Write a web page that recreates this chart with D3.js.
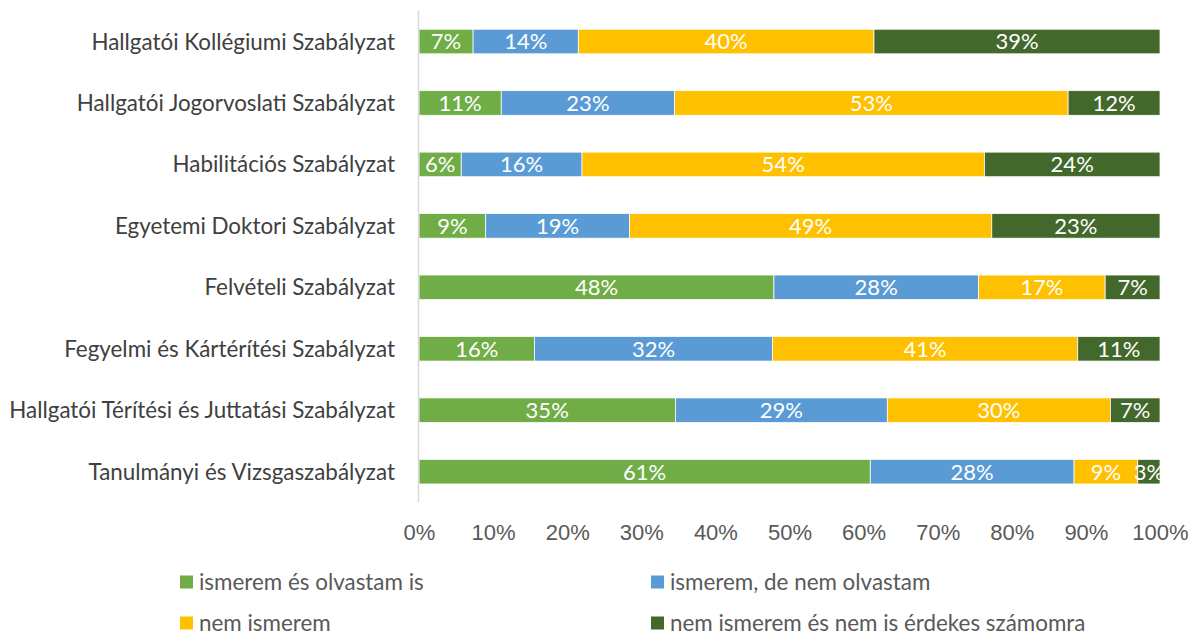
<!DOCTYPE html>
<meta charset="utf-8">
<style>
  body { margin: 0; background: #fff; font-family: Lato, "Open Sans", sans-serif; }
  .cat { fill: #404040; font-size: 22.4px; }
  .tick text { fill: #595959; font-size: 22px; }
  .lbl { fill: #fff; font-size: 22px; }
  .leg { fill: #595959; font-size: 22.4px; }
</style>
<body>
<script src="https://d3js.org/d3.v7.min.js"></script>
<script>
// categories top to bottom
var categories = [
  "Hallgatói Kollégiumi Szabályzat",
  "Hallgatói Jogorvoslati Szabályzat",
  "Habilitációs Szabályzat",
  "Egyetemi Doktori Szabályzat",
  "Felvételi Szabályzat",
  "Fegyelmi és Kártérítési Szabályzat",
  "Hallgatói Térítési és Juttatási Szabályzat",
  "Tanulmányi és Vizsgaszabályzat"
];
var seriesNames = [
  "ismerem és olvastam is",
  "ismerem, de nem olvastam",
  "nem ismerem",
  "nem ismerem és nem is érdekes számomra"
];
// percentages per series, same order as categories
var readIt    = [7.3, 11.1, 5.7, 9.0, 47.9, 15.6, 34.6, 60.9];
var knowNot   = [14.2, 23.4, 16.3, 19.4, 27.6, 32.1, 28.6, 27.5];
var dontKnow  = [39.9, 53.1, 54.3, 48.9, 17.1, 41.2, 30.1, 8.6];
var notCare   = [38.6, 12.4, 23.7, 22.7, 7.4, 11.1, 6.7, 3.0];
var xTicks = [0, 10, 20, 30, 40, 50, 60, 70, 80, 90, 100];
var colors = ["#70ad47", "#5b9bd5", "#ffc000", "#43682b"];

var W = 1189, H = 636;
var svg = d3.select("body").append("svg").attr("width", W).attr("height", H);

var x = d3.scaleLinear().domain([0, 100]).range([419, 1160]);
var y = d3.scaleBand().domain(categories).range([10.8, 502.4]).paddingInner(0.6).paddingOuter(0.3);

var rows = categories.map(function(c, i) {
  return { cat: c, s0: readIt[i], s1: knowNot[i], s2: dontKnow[i], s3: notCare[i] };
});
var stack = d3.stack().keys(["s0", "s1", "s2", "s3"])(rows);

var layers = svg.selectAll("g.layer").data(stack).enter().append("g")
  .attr("class", "layer")
  .attr("fill", function(d, i) { return colors[i]; });

layers.selectAll("rect").data(function(d) { return d; }).enter().append("rect")
  .attr("x", function(d) { return x(d[0]); })
  .attr("width", function(d) { return x(d[1]) - x(d[0]); })
  .attr("y", function(d) { return y(d.data.cat); })
  .attr("height", y.bandwidth())
  .attr("stroke", "#fff").attr("stroke-width", 0.75);

layers.selectAll("text").data(function(d) { return d; }).enter().append("text")
  .attr("class", "lbl")
  .attr("x", function(d) { return (x(d[0]) + x(d[1])) / 2; })
  .attr("y", function(d) { return y(d.data.cat) + y.bandwidth() / 2; })
  .attr("dy", "0.36em")
  .attr("text-anchor", "middle")
  .text(function(d) { return Math.round(d[1] - d[0]) + "%"; });

// vertical axis line
svg.append("line")
  .attr("x1", 418.5).attr("x2", 418.5)
  .attr("y1", y.range()[0]).attr("y2", y.range()[1])
  .attr("stroke", "#d9d9d9").attr("stroke-width", 1.5);

// category labels
svg.selectAll("text.cat").data(categories).enter().append("text")
  .attr("class", "cat")
  .attr("x", 395)
  .attr("y", function(d) { return y(d) + y.bandwidth() / 2; })
  .attr("dy", "0.36em")
  .attr("text-anchor", "end")
  .text(function(d) { return d; });

// x axis
var xAxis = svg.append("g")
  .attr("transform", "translate(0,502)")
  .call(d3.axisBottom(x).tickValues(xTicks).tickSize(0).tickPadding(22)
    .tickFormat(function(d) { return d + "%"; }));
xAxis.select(".domain").remove();
xAxis.selectAll("text").attr("font-family", null).attr("font-size", null);

// legend
var legPos = [[180, 582], [651, 582], [180, 623], [651, 623]];
var leg = svg.selectAll("g.legend").data(seriesNames).enter().append("g")
  .attr("class", "legend")
  .attr("transform", function(d, i) { return "translate(" + legPos[i][0] + "," + legPos[i][1] + ")"; });
leg.append("rect").attr("x", 0).attr("y", -6.5).attr("width", 13).attr("height", 13)
  .attr("fill", function(d, i) { return colors[i]; });
leg.append("text").attr("class", "leg").attr("x", 19).attr("dy", "0.36em").text(function(d) { return d; });
</script>
